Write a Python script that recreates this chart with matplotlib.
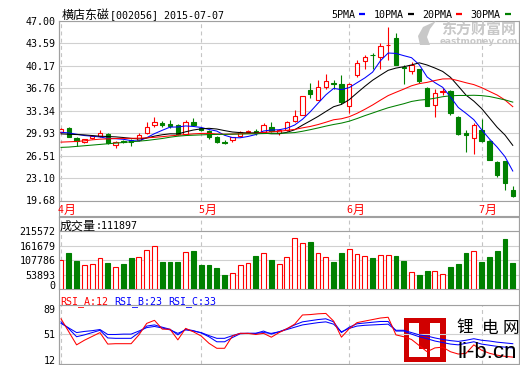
import matplotlib
matplotlib.use("Agg")
import matplotlib.pyplot as plt
from matplotlib.patches import Rectangle, Polygon
from matplotlib.lines import Line2D

# ---------------- data ----------------
title_name = "横店东磁"
title_code = "[002056] 2015-07-07"
month_labels = ["4月", "5月", "6月", "7月"]
month_idx = [0, 18, 37, 54]

opens = [30.11, 30.70, 29.20, 28.50, 29.25, 29.45, 29.85, 28.10, 28.75, 28.85,
         28.85, 29.95, 31.15, 31.45, 31.25, 31.15, 29.85, 31.65, 30.75, 30.25,
         29.40, 28.55, 28.80, 29.50, 30.15, 30.30, 30.15, 30.85, 30.00, 30.45,
         31.70, 32.70, 36.50, 35.00, 37.00, 37.60, 37.40, 34.10, 38.70, 40.90,
         41.85, 41.50, 43.25, 44.40, 40.00, 39.30, 39.60, 36.80, 34.20, 36.20,
         36.25, 32.40, 29.95, 29.20, 30.45, 28.70, 25.60, 25.65, 21.30]
highs = [30.70, 30.85, 29.30, 29.10, 29.70, 30.45, 30.00, 28.70, 28.90, 29.00,
         29.90, 31.60, 32.30, 31.75, 31.85, 31.30, 31.90, 32.20, 30.90, 30.40,
         29.50, 28.80, 29.40, 30.20, 30.45, 30.50, 31.45, 31.60, 30.50, 31.80,
         33.50, 35.60, 37.50, 38.00, 38.90, 38.00, 38.70, 37.60, 41.00, 41.80,
         42.10, 43.60, 46.10, 45.20, 40.20, 40.80, 39.70, 37.00, 36.60, 36.70,
         36.40, 32.50, 30.40, 31.40, 32.00, 28.80, 25.70, 25.70, 21.90]
lows = [30.00, 29.30, 28.00, 28.40, 29.10, 29.30, 28.20, 27.60, 28.40, 28.00,
        28.70, 29.80, 30.90, 30.90, 30.75, 29.70, 29.70, 30.95, 30.30, 29.10,
        28.40, 28.20, 28.50, 29.40, 30.00, 29.70, 30.00, 30.10, 29.60, 30.30,
        31.60, 32.60, 35.20, 34.90, 36.60, 36.60, 34.40, 33.00, 38.50, 39.60,
        39.60, 39.60, 41.10, 40.20, 37.40, 38.90, 37.60, 34.00, 32.40, 35.70,
        32.70, 29.70, 27.00, 26.80, 28.50, 25.80, 23.30, 21.20, 20.20]
closes = [30.56, 29.40, 28.75, 29.00, 29.55, 29.95, 28.35, 28.50, 28.55, 28.55,
          29.65, 30.85, 31.60, 31.10, 30.95, 29.75, 31.65, 31.20, 30.35, 29.30,
          28.50, 28.45, 29.30, 30.10, 30.30, 29.95, 31.10, 30.20, 30.40, 31.55,
          32.45, 35.50, 35.90, 36.90, 37.90, 37.35, 34.60, 37.40, 40.60, 41.55,
          41.75, 43.20, 43.35, 40.30, 39.85, 40.20, 37.80, 34.10, 36.00, 36.30,
          32.90, 29.80, 29.60, 31.20, 28.70, 25.90, 23.50, 22.40, 20.30]
volumes = [107800, 135200, 104000, 89000, 92800, 115300, 96500, 81500, 92800, 116400,
           119000, 145300, 160400, 101400, 101400, 101400, 137800, 142700, 89000, 89000,
           78900, 51500, 61600, 89000, 95400, 123900, 132900, 107800, 91600, 117900,
           189300, 170500, 176500, 132900, 117900, 99100, 132900, 148000, 129200, 121700,
           115300, 125400, 125400, 122800, 104000, 65300, 51500, 66500, 69100, 57800,
           81500, 92800, 134100, 140500, 100300, 119100, 141600, 186700, 96500]
last_volume = 111897

ma5 = [30.05, 29.95, 29.75, 29.55, 29.45, 29.33, 29.12, 29.07, 28.98, 28.78,
       28.72, 29.22, 29.84, 30.35, 30.83, 30.85, 31.01, 30.93, 30.78, 30.47,
       30.23, 29.59, 29.24, 29.21, 29.41, 29.70, 30.24, 30.39, 30.43, 30.66,
       31.15, 32.02, 33.16, 34.46, 35.73, 36.71, 36.53, 36.83, 37.57, 38.30,
       39.18, 40.90, 42.09, 42.03, 41.69, 41.38, 40.30, 38.45, 37.59, 36.88,
       35.42, 33.82, 32.92, 31.96, 30.44, 29.04, 27.78, 26.34, 24.16]
ma10 = [29.80, 29.75, 29.70, 29.65, 29.55, 29.45, 29.40, 29.35, 29.25, 29.12,
        29.03, 29.17, 29.46, 29.67, 29.81, 29.79, 30.12, 30.39, 30.57, 30.65,
        30.54, 30.30, 30.09, 30.00, 29.94, 29.97, 29.92, 29.82, 29.82, 30.04,
        30.43, 31.13, 31.78, 32.45, 33.20, 33.93, 34.28, 35.00, 36.02, 37.02,
        37.95, 38.72, 39.46, 39.80, 40.00, 40.28, 40.60, 40.27, 39.81, 39.29,
        38.40, 37.06, 35.69, 34.78, 33.66, 32.23, 30.80, 29.63, 28.06]
ma20 = [28.55, 28.60, 28.65, 28.75, 28.90, 29.00, 29.05, 29.10, 29.12, 29.13,
        29.15, 29.20, 29.28, 29.38, 29.50, 29.60, 29.70, 29.80, 29.87, 29.88,
        29.78, 29.74, 29.77, 29.83, 29.87, 29.88, 30.02, 30.10, 30.19, 30.34,
        30.48, 30.72, 30.93, 31.22, 31.57, 31.95, 32.10, 32.41, 32.92, 33.53,
        34.19, 34.92, 35.62, 36.12, 36.60, 37.11, 37.44, 37.63, 37.91, 38.15,
        38.17, 37.89, 37.57, 37.29, 36.83, 36.26, 35.70, 34.95, 33.94]
ma30 = [27.75, 27.80, 27.90, 28.00, 28.10, 28.20, 28.30, 28.40, 28.50, 28.60,
        28.70, 28.80, 28.95, 29.10, 29.30, 29.45, 29.55, 29.60, 29.65, 29.70,
        29.72, 29.74, 29.76, 29.78, 29.80, 29.82, 29.85, 29.88, 29.90, 29.93,
        30.00, 30.20, 30.44, 30.70, 30.98, 31.23, 31.44, 31.73, 32.13, 32.57,
        32.97, 33.38, 33.77, 34.08, 34.38, 34.73, 34.93, 35.03, 35.22, 35.45,
        35.59, 35.64, 35.64, 35.67, 35.62, 35.48, 35.23, 34.97, 34.63]
ma_names = ["5PMA", "10PMA", "20PMA", "30PMA"]

rsi_a = [71, 54, 37, 43, 48, 53, 38, 38.5, 38.5, 38.5,
         50, 65, 69, 57.5, 57.3, 43.5, 58.5, 54, 48.5, 39,
         32.5, 32.5, 48.5, 52, 52, 50.5, 52, 47, 53, 58,
         64, 76, 76.5, 77.5, 78, 68, 47, 58, 66, 68,
         70, 72, 73, 50, 47.6, 44, 36, 28, 33, 34,
         28, 25, 26, 37, 30, 26, 23.5, 22, 21]
rsi_b = [67, 58, 47.6, 50, 53, 56, 46, 45.5, 45.5, 45.5,
         53, 61.5, 63, 60, 57.3, 50, 57.5, 55.5, 52.5, 47.5,
         41, 41, 46.5, 51.5, 52, 52, 55, 51, 54, 58,
         63, 67, 68.5, 70, 71, 67, 53, 60, 64.5, 65.5,
         66.5, 67.5, 67.5, 55, 55, 51, 47.5, 45, 42, 40,
         38, 37, 39, 41, 38, 36.5, 35, 34, 33]
rsi_c = [65, 59, 53, 54.5, 55.5, 57, 50.5, 50.5, 51, 51,
         55, 59.5, 61, 59, 56.5, 52, 56.5, 55, 53, 49,
         45.5, 45.5, 49, 52, 52, 52, 53, 52, 54, 57,
         60, 63, 64.5, 66, 67, 64, 54, 58.5, 61.5, 62.5,
         63, 63.5, 64, 56, 56, 53, 50, 48.5, 46, 44,
         42.5, 41.5, 43, 45, 43, 42, 40.5, 39.5, 38.5]
rsi_names = ["RSI_A:12", "RSI_B:23", "RSI_C:33"]

price_ticks = [47.00, 43.59, 40.17, 36.76, 33.34, 29.93, 26.51, 23.10, 19.68]
vol_ticks = [0, 53893, 107786, 161679, 215572]
rsi_ticks = [12, 51, 89]

# ---------------- style ----------------
RED = "#ff0000"
GREEN = "#008000"
BLUE = "#0000ff"
BLACK = "#000000"
FRAME = "#a0a0a0"
GRID = "#d0d0d0"
DASH = "#c4c4c4"
MONO = "DejaVu Sans Mono"
CJK = "Noto Sans CJK SC"

W, H = 520, 365
fig = plt.figure(figsize=(W / 100, H / 100), dpi=100)
fig.patch.set_facecolor("white")


def fx(px):
    return px / W


def fy(py):
    return 1 - py / H


LEFT, RIGHT = 59, 519


def make_ax(top, bottom):
    return fig.add_axes([fx(LEFT), fy(bottom), (RIGHT - LEFT) / W, (bottom - top) / H])


ax_p = make_ax(20.7, 200.5)
ax_v = make_ax(216.5, 289)
ax_r = make_ax(305, 364)

n = len(closes)
xs = list(range(n))
XL = (-0.26, 58.8)

for ax in (ax_p, ax_v, ax_r):
    ax.set_xlim(*XL)
    ax.set_xticks([])
    for sp in ax.spines.values():
        sp.set_color(FRAME)
        sp.set_linewidth(0.8)
    ax.tick_params(axis="y", length=0, pad=2.6, labelsize=7.2, colors=BLACK)
    ax.set_axisbelow(True)
    for m in month_idx:
        ax.axvline(m, color=DASH, lw=0.8, ls=(0, (3.5, 3)), zorder=0.5)

# price panel
ax_p.set_ylim(price_ticks[-1], price_ticks[0])
ax_p.set_yticks(price_ticks)
ax_p.set_yticklabels([f"{v:.2f}" for v in price_ticks], fontfamily=MONO)
ax_p.grid(axis="y", color=GRID, lw=0.8)

bw = 0.56
for i in range(n):
    o, h, l, c = opens[i], highs[i], lows[i], closes[i]
    up = c >= o
    col = RED if up else GREEN
    lo, hi = min(o, c), max(o, c)
    ax_p.plot([i, i], [l, lo], color=col, lw=0.8, solid_capstyle="butt", zorder=2)
    ax_p.plot([i, i], [hi, h], color=col, lw=0.8, solid_capstyle="butt", zorder=2)
    ax_p.add_patch(Rectangle((i - bw / 2, lo), bw, max(hi - lo, 0.04),
                             facecolor="white" if up else col, edgecolor=col,
                             lw=0.8, zorder=3))

for vals, col in zip((ma5, ma10, ma20, ma30), (BLUE, BLACK, RED, GREEN)):
    ax_p.plot(xs, vals, color=col, lw=0.75, zorder=4)

# volume panel
vol_top = vol_ticks[-1] * (289 - 216.5) / (289 - 231.3)
ax_v.set_ylim(0, vol_top)
ax_v.set_yticks(vol_ticks)
vlabels = ax_v.set_yticklabels([str(v) for v in vol_ticks], fontfamily=MONO)
vlabels[0].set_va("baseline")
ax_v.grid(axis="y", color=GRID, lw=0.8)
ax_v.axhline(vol_ticks[-1], color=FRAME, lw=0.8, zorder=1)
vbw = 0.62
for i in range(n):
    up = closes[i] >= opens[i]
    col = RED if up else GREEN
    ax_v.add_patch(Rectangle((i - vbw / 2, 0), vbw, volumes[i],
                             facecolor="white" if up else col, edgecolor=col,
                             lw=0.8, zorder=3))

# rsi panel
ax_r.set_ylim(rsi_ticks[0], rsi_ticks[-1])
ax_r.set_yticks(rsi_ticks)
rlabels = ax_r.set_yticklabels([str(v) for v in rsi_ticks], fontfamily=MONO)
rlabels[0].set_va("baseline")
rlabels[-1].set_va("top")
ax_r.grid(axis="y", color=GRID, lw=0.8)
ax_r.patch.set_alpha(0)
ax_r.set_zorder(2)
ax_r.plot(xs, rsi_c, color=BLUE, lw=0.75, zorder=4)
ax_r.plot(xs, rsi_b, color=BLUE, lw=0.75, zorder=4)
ax_r.plot(xs, rsi_a, color=RED, lw=0.75, zorder=5)

# continuous outer frame lines
fig.add_artist(Line2D([fx(LEFT)] * 2, [fy(20.7), fy(364)], color=FRAME, lw=0.8))
fig.add_artist(Line2D([fx(RIGHT)] * 2, [fy(20.7), fy(364)], color=FRAME, lw=0.8))
fig.add_artist(Line2D([fx(LEFT), fx(RIGHT)], [fy(216.5)] * 2, color=FRAME, lw=0.8))


# ---------------- texts (SimSun-like layout: CJK 12px, ASCII 6px) ----------------
def mixed(x, base, s, color=BLACK, zorder=6):
    runs = []
    for ch in s:
        c = ord(ch) > 0x2E7F
        if runs and runs[-1][1] == c:
            runs[-1][0] += ch
        else:
            runs.append([ch, c])
    cx = x
    for txt, c in runs:
        if c:
            fig.text(fx(cx), fy(base + 0.8), txt, family=CJK, fontsize=12 * 0.72,
                     color=color, va="baseline", ha="left", zorder=zorder)
            cx += 12 * len(txt)
        else:
            fig.text(fx(cx), fy(base), txt, family=MONO, fontsize=9.97 * 0.72,
                     color=color, va="baseline", ha="left", zorder=zorder)
            cx += 6 * len(txt)
    return cx


mixed(62, 18.3, title_name + title_code)

lx = 331
for name, col in zip(ma_names, (BLUE, BLACK, RED, GREEN)):
    lx = mixed(lx, 18.3, name) + 4
    fig.add_artist(Line2D([fx(lx), fx(lx + 6)], [fy(14.2)] * 2, color=col, lw=1.6,
                          solid_capstyle="butt"))
    lx += 6 + 8.5

for m, lab in zip(month_idx, month_labels):
    px = ax_p.transData.transform((m, price_ticks[-1]))[0]
    mixed(px - 3, 212.7, lab, color=RED)

mixed(60, 229, f"成交量:{last_volume}")

rx = 60
for name, col in zip(rsi_names, (RED, BLUE, BLUE)):
    rx = mixed(rx, 304, name, color=col) + 6

# ---------------- watermarks / logos ----------------
WM = "#c8c8c8"
fig.add_artist(Polygon([(fx(420), fy(45)), (fx(418), fy(36)), (fx(423), fy(27)),
                        (fx(436), fy(21)), (fx(430), fy(29)), (fx(427), fy(37)),
                        (fx(430), fy(45))], closed=True, facecolor=WM, edgecolor="none",
                       transform=fig.transFigure, zorder=1))
fig.text(fx(479), fy(28.5), "东方财富网", family=CJK, fontsize=10.8, fontweight="bold",
         color=WM, ha="center", va="center", zorder=1)
fig.text(fx(479), fy(41.5), "eastmoney.com", family="DejaVu Sans", fontsize=6.4,
         fontweight="bold", color=WM, ha="center", va="center", zorder=1)

LOGO = "#d00000"
fig.add_artist(Rectangle((fx(404), fy(362)), 42 / W, 44 / H, facecolor=LOGO,
                         edgecolor="none", transform=fig.transFigure, zorder=1))
for (x0, y0, x1, y1) in [(409, 323, 419, 357), (409, 349, 427, 357), (430, 323, 440, 357)]:
    fig.add_artist(Rectangle((fx(x0), fy(y1)), (x1 - x0) / W, (y1 - y0) / H,
                             facecolor="white", edgecolor="none",
                             transform=fig.transFigure, zorder=1.1))
for ch, cx in zip("锂电网", (465, 490, 511)):
    fig.text(fx(cx), fy(328), ch, family=CJK, fontsize=12, color=BLACK,
             ha="center", va="center", zorder=6)
fig.text(fx(487.5), fy(352), "li-b.cn", family="Liberation Sans", fontsize=16,
         color=BLACK, ha="center", va="center", zorder=6)

fig.savefig("out.png", dpi=100, facecolor="white")
